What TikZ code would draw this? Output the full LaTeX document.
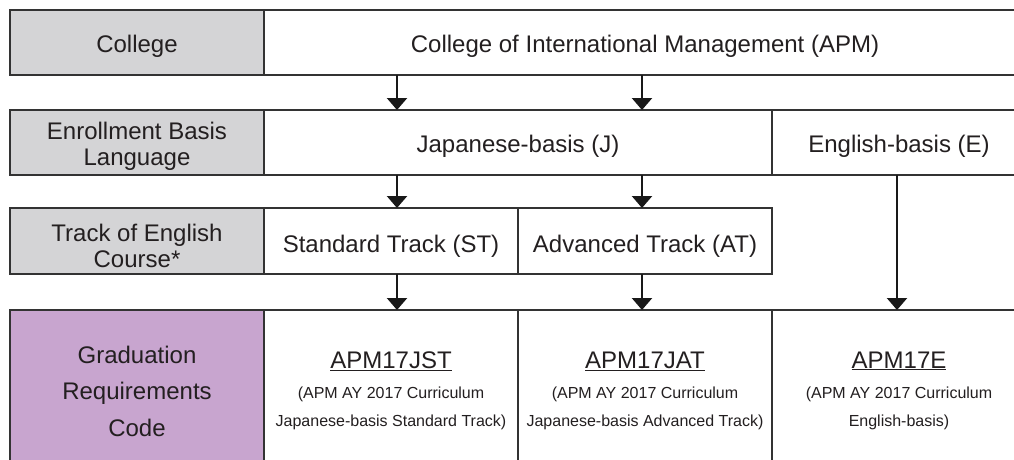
\documentclass[tikz,border=0pt]{standalone}
\usepackage{fontspec}
\setmainfont{Liberation Sans}
\usetikzlibrary{arrows.meta}
\definecolor{hdr}{HTML}{D4D4D6}
\definecolor{purp}{HTML}{C8A5CF}
\definecolor{ink}{HTML}{231F20}
\definecolor{edge}{HTML}{333333}
\begin{document}
\begin{tikzpicture}[x=1pt,y=-1pt,
  cell/.style={draw=edge, line width=1.4pt, inner sep=0pt, outer sep=0pt,
    anchor=north west},
  hcell/.style={cell, fill=hdr},
  txt/.style={inner sep=0pt, text=ink, align=center, font=\fontsize{24}{26}\selectfont},
  small/.style={inner sep=0pt, text=ink, align=center, font=\fontsize{16}{28}\selectfont},
  arr/.style={draw=black!90, line width=2.3pt, -{Triangle[width=20pt,length=12pt]}}]
\useasboundingbox (0,0) rectangle (1014,459);
\clip (0,0) rectangle (1014,459);
\fill[white] (0,0) rectangle (1014,459);
% row 1
\node[hcell, minimum width=254pt, minimum height=65pt] (college) at (10,10) {};
\node[cell, minimum width=762pt, minimum height=65pt] (apm) at (264,10) {};
\node[txt] (collegeT) at (137,46) {College};
\node[txt] (apmT) at (645,46) {College of International Management (APM)};
% row 2
\node[hcell, minimum width=254pt, minimum height=65pt] (ebl) at (10,110) {};
\node[cell, minimum width=508pt, minimum height=65pt] (jb) at (264,110) {};
\node[cell, minimum width=254pt, minimum height=65pt] (eb) at (772,110) {};
\node[txt] (eblT) at (137,146) {Enrollment Basis\\Language};
\node[txt] (jbT) at (518,146) {Japanese-basis (J)};
\node[txt] (ebT) at (899,146) {English-basis (E)};
% row 3
\node[hcell, minimum width=254pt, minimum height=66pt] (tec) at (10,208) {};
\node[cell, minimum width=254pt, minimum height=66pt] (st) at (264,208) {};
\node[cell, minimum width=254pt, minimum height=66pt] (at) at (518,208) {};
\node[txt] (tecT) at (137,246) {Track of English\\Course*};
\node[txt] (stT) at (391,246) {Standard Track (ST)};
\node[txt] (atT) at (645,246) {Advanced Track (AT)};
% row 4
\node[cell, fill=purp, minimum width=254pt, minimum height=170pt] (grc) at (10,310) {};
\node[cell, minimum width=254pt, minimum height=170pt] (jst) at (264,310) {};
\node[cell, minimum width=254pt, minimum height=170pt] (jat) at (518,310) {};
\node[cell, minimum width=254pt, minimum height=170pt] (e) at (772,310) {};
\node[txt, font=\fontsize{24}{36.5}\selectfont] (grcT) at (137,391) {Graduation\\Requirements\\Code};
\node[txt] (jstc) at (391,361) {\underline{APM17JST}};
\node[small] (jsts) at (391,408) {(APM AY 2017 Curriculum\\Japanese-basis Standard Track)};
\node[txt] (jatc) at (645,361) {\underline{APM17JAT}};
\node[small] (jats) at (645,408) {(APM AY 2017 Curriculum\\Japanese-basis Advanced Track)};
\node[txt] (ec) at (899,361) {\underline{APM17E}};
\node[small] (es) at (899,408) {(APM AY 2017 Curriculum\\English-basis)};
% arrows
\coordinate (xa) at (397,0);
\coordinate (xb) at (642,0);
\coordinate (xc) at (897,0);
\draw[arr] (apm.south -| xa) -- (jb.north -| xa);
\draw[arr] (apm.south -| xb) -- (jb.north -| xb);
\draw[arr] (jb.south -| xa) -- (st.north -| xa);
\draw[arr] (jb.south -| xb) -- (at.north -| xb);
\draw[arr] (st.south -| xa) -- (jst.north -| xa);
\draw[arr] (at.south -| xb) -- (jat.north -| xb);
\draw[arr] (eb.south -| xc) -- (e.north -| xc);
\end{tikzpicture}
\end{document}
